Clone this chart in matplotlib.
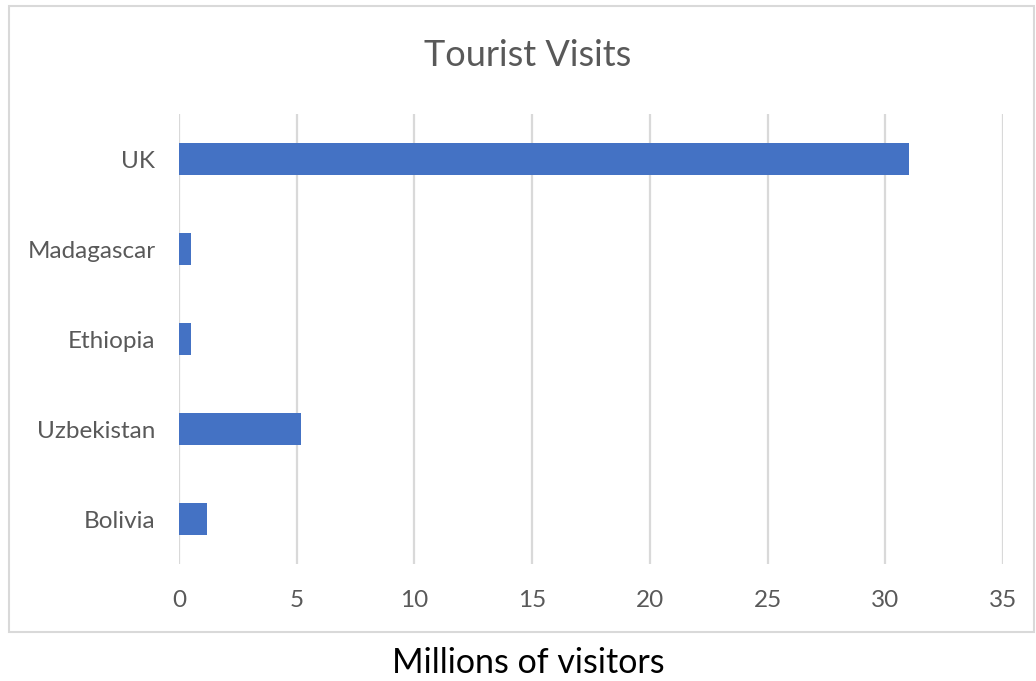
import matplotlib
matplotlib.use("Agg")
import matplotlib.pyplot as plt
from matplotlib.patches import Rectangle

# Tourist visits by country, millions of visitors
countries = ["UK", "Madagascar", "Ethiopia", "Uzbekistan", "Bolivia"]
visits = [31.0, 0.5, 0.5, 5.2, 1.2]
x_ticks = [0, 5, 10, 15, 20, 25, 30, 35]

plt.rcParams["font.family"] = ["Lato", "DejaVu Sans"]

W, H = 1036, 681
fig = plt.figure(figsize=(W / 100, H / 100), dpi=100)

# chart frame
fig.patches.append(Rectangle((8.5 / W, 1 - 632 / H), (1034 - 8.5) / W, (632 - 6) / H,
                             transform=fig.transFigure, fill=False,
                             edgecolor="#d9d9d9", linewidth=1.5))

ax = fig.add_axes([179 / W, 1 - 564 / H, (1003 - 179) / W, (564 - 114) / H])

ypos = list(range(len(countries)))[::-1]
ax.barh(ypos, visits, height=0.345, color="#4472c4", zorder=3)

ax.set_xlim(0, 35)
ax.set_ylim(-0.5, len(countries) - 0.5)
ax.set_xticks(x_ticks)
ax.set_xticklabels([str(t) for t in x_ticks])
ax.set_yticks(ypos)
ax.set_yticklabels(countries)

ax.grid(axis="x", color="#d9d9d9", linewidth=1.6, zorder=0)
for s in ax.spines.values():
    s.set_visible(False)
ax.tick_params(axis="both", length=0, labelsize=17.5, labelcolor="#595959")
ax.tick_params(axis="x", pad=19)
ax.tick_params(axis="y", pad=17)

fig.text(528 / W, 1 - 56 / H, "Tourist Visits", ha="center", va="center",
         fontsize=26, color="#595959")
fig.text(528 / W, 1 - 663 / H, "Millions of visitors", ha="center", va="center",
         fontsize=24.5, color="black")

fig.savefig("out.png", dpi=100)
